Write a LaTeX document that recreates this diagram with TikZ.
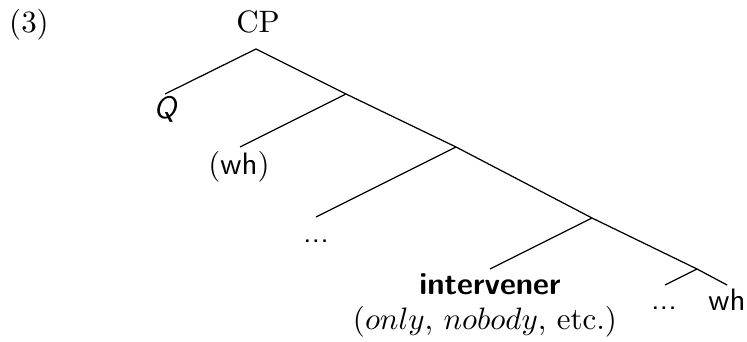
\documentclass[tikz,border=0pt]{standalone}
\usepackage{fontspec}
\begin{document}
\begin{tikzpicture}[x=0.323pt,y=-0.323pt,
  branch/.style={draw=black,line width=0.4pt},
  lbl/.style={anchor=base,inner sep=0pt}]
\useasboundingbox (0,0) rectangle (747,342);
% labels
\node[lbl] (ex) at (29,33) {(3)};
\node[lbl] (cp) at (258,33) {CP};
\node[lbl] (q) at (166,119) {\textsf{\textit{Q}}};
\node[lbl] (wh1) at (239,175) {(\textsf{wh})};
\node[lbl] (dots1) at (316,243) {\textsf{...}};
\node[lbl] (int) at (490,295) {\textsf{\bfseries intervener}};
\node[lbl] (intx) at (485,330) {($only$, $nobody$, etc.)};
\node[lbl] (dots2) at (664,310) {\textsf{...}};
\node[lbl] (wh2) at (727,311) {\textsf{wh}};
% tree points
\coordinate (r) at (256,49);
\coordinate (n1) at (346,94);
\coordinate (n2) at (456,147);
\coordinate (n3) at (592,218);
\coordinate (n4) at (697,269);
\coordinate (eq) at (165,94);
\coordinate (ewh) at (240,147);
\coordinate (ed) at (316,217);
\coordinate (ei) at (490,269);
\coordinate (ed2) at (665,285);
\coordinate (ewh2) at (727,285);
% branches
\draw[branch] (eq) -- (r) -- (n1) -- (n2) -- (n3) -- (n4) -- (ewh2);
\draw[branch] (n1) -- (ewh);
\draw[branch] (n2) -- (ed);
\draw[branch] (n3) -- (ei);
\draw[branch] (n4) -- (ed2);
\end{tikzpicture}
\end{document}
